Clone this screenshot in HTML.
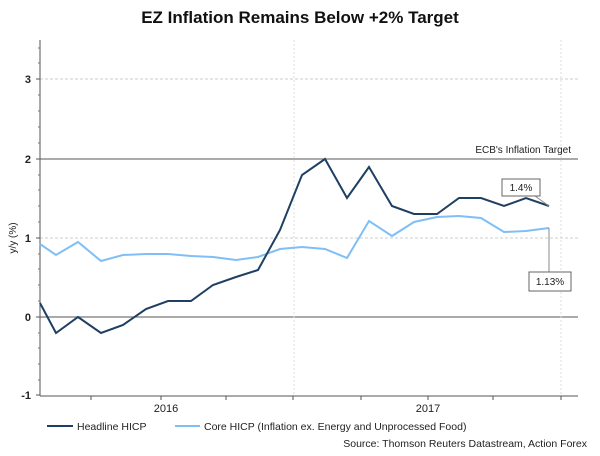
<!DOCTYPE html>
<html><head><meta charset="utf-8"><style>
body{margin:0;background:#fff;}
svg text{font-family:"Liberation Sans",Arial,sans-serif;}
</style></head><body>
<svg width="600" height="451" viewBox="0 0 600 451" xmlns="http://www.w3.org/2000/svg">
<text x="300" y="23" text-anchor="middle" font-size="17" font-weight="bold" fill="#111">EZ Inflation Remains Below +2% Target</text>
<line x1="40" y1="79" x2="578" y2="79" stroke="#ccc" stroke-dasharray="3,2"/>
<line x1="40" y1="238" x2="578" y2="238" stroke="#ccc" stroke-dasharray="3,2"/>
<line x1="40" y1="159" x2="578" y2="159" stroke="#777" stroke-width="1.3"/>
<line x1="40" y1="317" x2="578" y2="317" stroke="#777" stroke-width="1.3"/>
<line x1="294" y1="40" x2="294" y2="396" stroke="#ddd" stroke-dasharray="2,2"/>
<line x1="561" y1="40" x2="561" y2="396" stroke="#ddd" stroke-dasharray="2,2"/>
<line x1="40" y1="40" x2="40" y2="396" stroke="#555"/>
<line x1="40" y1="396" x2="578" y2="396" stroke="#555"/>
<g stroke="#555">
<line x1="36" y1="79" x2="40" y2="79"/><line x1="36" y1="159" x2="40" y2="159"/><line x1="36" y1="238" x2="40" y2="238"/><line x1="36" y1="317" x2="40" y2="317"/><line x1="36" y1="395" x2="40" y2="395"/>
<line x1="91" y1="396" x2="91" y2="400"/><line x1="161" y1="396" x2="161" y2="400"/><line x1="226" y1="396" x2="226" y2="400"/><line x1="293" y1="396" x2="293" y2="400"/><line x1="361" y1="396" x2="361" y2="400"/><line x1="428" y1="396" x2="428" y2="400"/><line x1="493" y1="396" x2="493" y2="400"/><line x1="561" y1="396" x2="561" y2="400"/>
</g>
<g stroke="#777">
<line x1="38" y1="48" x2="40" y2="48"/><line x1="38" y1="63" x2="40" y2="63"/><line x1="38" y1="95" x2="40" y2="95"/><line x1="38" y1="111" x2="40" y2="111"/><line x1="38" y1="127" x2="40" y2="127"/><line x1="38" y1="143" x2="40" y2="143"/><line x1="38" y1="175" x2="40" y2="175"/><line x1="38" y1="190" x2="40" y2="190"/><line x1="38" y1="206" x2="40" y2="206"/><line x1="38" y1="222" x2="40" y2="222"/><line x1="38" y1="254" x2="40" y2="254"/><line x1="38" y1="269" x2="40" y2="269"/><line x1="38" y1="285" x2="40" y2="285"/><line x1="38" y1="301" x2="40" y2="301"/><line x1="38" y1="333" x2="40" y2="333"/><line x1="38" y1="348" x2="40" y2="348"/><line x1="38" y1="364" x2="40" y2="364"/><line x1="38" y1="380" x2="40" y2="380"/>
</g>
<g font-size="11" font-weight="bold" fill="#222" text-anchor="end">
<text x="31" y="83">3</text><text x="31" y="163">2</text><text x="31" y="242">1</text><text x="31" y="321">0</text><text x="31" y="399">-1</text>
</g>
<text transform="translate(16,238) rotate(-90)" text-anchor="middle" font-size="10" fill="#222">y/y (%)</text>
<text x="166" y="412" text-anchor="middle" font-size="11" fill="#222">2016</text>
<text x="428" y="412" text-anchor="middle" font-size="11" fill="#222">2017</text>
<text x="571" y="153" text-anchor="end" font-size="10" fill="#222">ECB's Inflation Target</text>
<polyline fill="none" stroke="#7fbff5" stroke-width="2" points="40,244 56,255 78,242 101,261 123,255 146,254 168,254 191,256 213,257 236,260 258,257 280,249 302,247 325,249 347,258 369,221 392,236 414,222 437,217 459,216 481,218 504,232 526,231 549,228"/>
<polyline fill="none" stroke="#1f3f63" stroke-width="2" points="40,303 56,333 78,317 101,333 123,325 146,309 168,301 191,301 213,285 236,277 258,270 280,230 302,175 325,159 347,198 369,167 392,206 414,214 437,214 459,198 481,198 504,206 526,198 549,206"/>
<line x1="535" y1="196" x2="549" y2="206" stroke="#888"/>
<rect x="502" y="179" width="38" height="17" fill="#fff" stroke="#666"/>
<text x="521" y="191" text-anchor="middle" font-size="10" fill="#222">1.4%</text>
<line x1="549" y1="228" x2="549" y2="272" stroke="#888"/>
<rect x="529" y="272" width="42" height="19" fill="#fff" stroke="#666"/>
<text x="550" y="285" text-anchor="middle" font-size="10" fill="#222">1.13%</text>
<line x1="47" y1="426" x2="73" y2="426" stroke="#1f3f63" stroke-width="2"/>
<text x="77" y="430" font-size="10.5" fill="#222">Headline HICP</text>
<line x1="175" y1="426" x2="200" y2="426" stroke="#7fbff5" stroke-width="2"/>
<text x="204" y="430" font-size="10.5" fill="#222">Core HICP (Inflation ex. Energy and Unprocessed Food)</text>
<text x="587" y="447" text-anchor="end" font-size="10.5" fill="#222">Source: Thomson Reuters Datastream, Action Forex</text>
</svg>
</body></html>
